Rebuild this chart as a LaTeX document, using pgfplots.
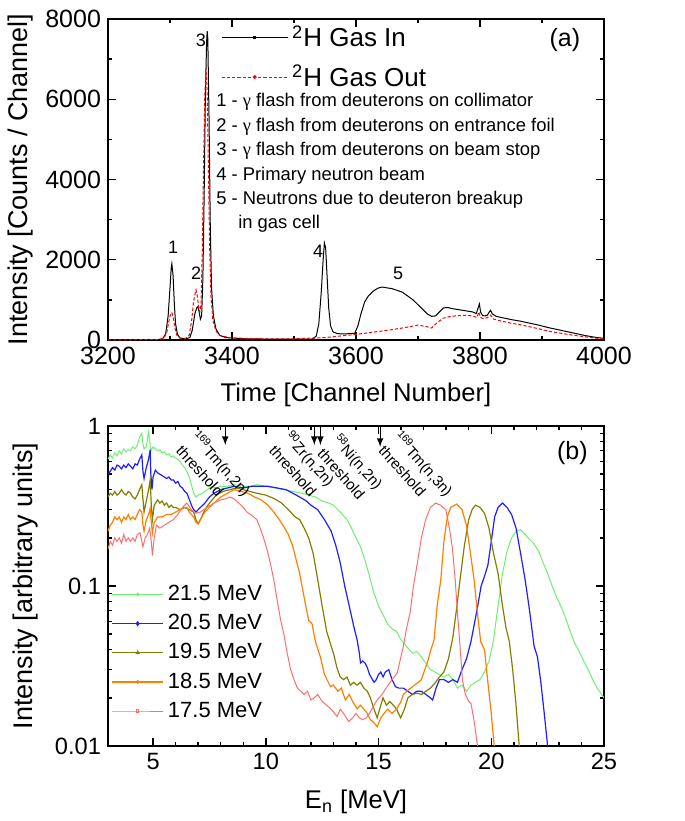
\documentclass[border=0pt]{standalone}
\usepackage{fontspec}
\setmainfont{Liberation Sans}
\newfontfamily\gk{Liberation Serif}
\usepackage{pgfplots}
\pgfplotsset{compat=1.18}

\definecolor{cgreen}{RGB}{110,240,110}
\definecolor{cblue}{RGB}{30,30,255}
\definecolor{colive}{RGB}{128,128,0}
\definecolor{corange}{RGB}{255,128,0}
\definecolor{cpink}{RGB}{255,110,110}

\pgfplotsset{
  common/.style={
    scale only axis,
    tick align=inside,
    major tick length=4pt,
    minor tick length=2pt,
    axis line style={line width=0.9pt},
    every tick/.style={black, line width=0.7pt},
    /pgf/number format/assume math mode=true,
    /pgf/number format/1000 sep={},
    xlabel style={font=\fontsize{12.8}{14}\selectfont},
    ylabel style={font=\fontsize{13.5}{15}\selectfont},
  },
  lega/.style={legend image code/.code={\draw[mark repeat=2,mark phase=2,##1] plot coordinates {(0pt,0pt)(16.5pt,0pt)(33pt,0pt)};}},
  legb/.style={legend image code/.code={\draw[mark repeat=2,mark phase=2,##1] plot coordinates {(0pt,0pt)(12.75pt,0pt)(25.5pt,0pt)};}},
}

\begin{document}
\begin{tikzpicture}
\useasboundingbox (0,0) rectangle (342.5pt,-410.5pt);

% ---------- panel (a)
\begin{axis}[common,
  at={(54pt,-170pt)}, anchor=south west,
  width=248pt, height=160.5pt,
  xmin=3200, xmax=4000, ymin=0, ymax=8000,
  xtick={3200,3400,...,4000}, ytick={0,2000,...,8000},
  minor x tick num=1, minor y tick num=1,
  ticklabel style={font=\fontsize{12.5}{13}\selectfont},
  xlabel={Time [Channel Number]},
  ylabel={Intensity [Counts / Channel]},
  xlabel style={at={(axis description cs:0.5,-0.17)}, anchor=center},
  ylabel style={at={(axis description cs:-0.177,0.5)}, anchor=center},
  legend style={at={(axis cs:3382,7950)}, anchor=north west, draw=none, fill=none,
    inner sep=0pt, row sep=3.5pt, font=\fontsize{13}{14}\selectfont},
  legend cell align=left,
]
\addplot[black, line width=0.5pt, forget plot] coordinates {
(3200,5)(3250,8)(3280,10)(3288,30)(3293,150)(3297,600)(3300,1300)(3302,1800)(3303,1900)(3305,1600)(3307,900)(3309,400)(3312,150)(3316,50)(3325,25)(3332,60)(3336,250)(3340,650)(3343,800)(3345,830)(3347,700)(3349,520)(3351,600)(3353,1500)(3355,3500)(3357,6000)(3359,7400)(3360,7700)(3361,7500)(3363,5500)(3365,2800)(3367,1300)(3370,600)(3374,280)(3380,120)(3390,60)(3420,30)(3480,20)(3530,25)(3536,100)(3540,400)(3544,1200)(3547,2000)(3549,2420)(3551,2300)(3553,1700)(3556,800)(3559,350)(3563,200)(3570,160)(3580,150)(3590,160)(3598,170)(3603,350)(3608,650)(3614,950)(3620,1100)(3628,1220)(3635,1290)(3642,1320)(3650,1300)(3658,1280)(3666,1240)(3675,1190)(3684,1090)(3692,1000)(3700,880)(3708,760)(3715,650)(3722,590)(3728,600)(3734,690)(3741,800)(3748,810)(3756,780)(3764,760)(3772,740)(3780,720)(3788,700)(3794,660)(3797,800)(3799,900)(3801,700)(3804,610)(3808,600)(3812,620)(3815,700)(3817,740)(3820,650)(3826,590)(3835,560)(3850,510)(3865,470)(3880,420)(3895,370)(3910,310)(3925,260)(3940,210)(3955,160)(3970,110)(3985,70)(4000,40)
};
\addplot[red, line width=0.5pt, dash pattern=on 1.6pt off 1pt, forget plot] coordinates {
(3200,5)(3280,8)(3290,40)(3295,200)(3298,450)(3301,650)(3303,680)(3305,580)(3308,300)(3311,120)(3316,50)(3325,40)(3331,120)(3335,500)(3338,950)(3341,1200)(3342,1250)(3344,1100)(3346,850)(3348,700)(3350,900)(3352,2200)(3354,4200)(3356,6000)(3358,6780)(3360,6200)(3362,4200)(3364,2300)(3366,1100)(3369,500)(3374,230)(3380,110)(3400,50)(3450,30)(3500,30)(3550,60)(3575,100)(3600,140)(3625,190)(3650,240)(3675,300)(3700,370)(3712,340)(3722,300)(3730,420)(3740,540)(3750,580)(3760,600)(3770,610)(3780,620)(3790,590)(3795,560)(3798,700)(3801,560)(3806,530)(3812,560)(3817,620)(3822,520)(3835,470)(3850,420)(3865,380)(3880,330)(3895,280)(3910,220)(3930,170)(3950,120)(3970,80)(3985,50)(4000,25)
};
\addlegendimage{lega, black, line width=0.5pt, mark=square*, mark size=0.6pt}
\addlegendentry{\textsuperscript{2}H Gas In}
\addlegendimage{lega, red, line width=0.5pt, dash pattern=on 1.6pt off 1pt, mark=*, mark size=0.7pt, mark options={solid}}
\addlegendentry{\textsuperscript{2}H Gas Out}

\node[anchor=north west, align=left, inner sep=0pt, font=\fontsize{9.2}{12.2}\selectfont]
  at (axis cs:3374,6150) {1 - {\gk γ} flash from deuterons on collimator\\
  2 - {\gk γ} flash from deuterons on entrance foil\\
  3 - {\gk γ} flash from deuterons on beam stop\\
  4 - Primary neutron beam\\
  5 - Neutrons due to deuteron breakup\\
  \hspace*{11pt}in gas cell};
\begin{scope}[font=\fontsize{9}{10}\selectfont]
\node at (axis cs:3305,2320) {1};
\node at (axis cs:3342,1670) {2};
\node at (axis cs:3350,7480) {3};
\node at (axis cs:3539,2220) {4};
\node at (axis cs:3668,1670) {5};
\end{scope}
\node[font=\fontsize{12.5}{13}\selectfont] at (axis cs:3937,7480) {(a)};
\end{axis}

% ---------- panel (b)
\begin{axis}[common,
  at={(54pt,-373pt)}, anchor=south west,
  width=248pt, height=160pt,
  xmin=3, xmax=25, ymin=0.01, ymax=1, ymode=log,
  xtick={5,10,...,25}, minor x tick num=4,
  ytick={0.01,0.1,1}, yticklabels={0.01,0.1,1},
  ticklabel style={font=\fontsize{11.8}{13}\selectfont},
  xlabel={E\textsubscript{n} [MeV]},
  ylabel={Intensity [arbitrary units]},
  xlabel style={at={(axis description cs:0.5,-0.175)}, anchor=center},
  ylabel style={at={(axis description cs:-0.167,0.5)}, anchor=center},
  legend style={at={(rel axis cs:0.006,0.516)}, anchor=north west, draw=none, fill=none,
    inner sep=0pt, row sep=1.4pt, font=\fontsize{11}{12}\selectfont},
  legend cell align=left,
]
\addplot[cgreen, line width=0.5pt, forget plot] coordinates {
(3.0,0.62)(3.1,0.66)(3.2,0.63)(3.3,0.68)(3.4,0.65)(3.5,0.70)(3.6,0.67)(3.7,0.72)(3.8,0.69)(3.9,0.71)(4.0,0.70)(4.1,0.74)(4.2,0.72)(4.3,0.76)(4.4,0.85)(4.5,0.90)(4.55,0.78)(4.6,0.72)(4.7,0.74)(4.8,0.92)(4.85,0.80)(4.9,0.70)(5.0,0.74)(5.1,0.72)(5.2,0.70)(5.3,0.71)(5.4,0.68)(5.5,0.69)(5.6,0.66)(5.7,0.67)(5.8,0.64)(5.9,0.65)(6.0,0.63)(6.1,0.62)(6.2,0.60)(6.3,0.57)(6.4,0.55)(6.5,0.52)(6.6,0.48)(6.7,0.43)(6.8,0.38)(6.9,0.36)(7.0,0.37)(7.2,0.38)(7.4,0.40)(7.6,0.42)(7.8,0.41)(8.0,0.42)(8.3,0.42)(8.6,0.43)(9.0,0.42)(9.3,0.42)(9.6,0.43)(10.0,0.42)(10.4,0.41)(10.8,0.40)(11.2,0.39)(11.6,0.38)(11.9,0.37)(12.2,0.36)(12.5,0.34)(12.8,0.33)(13.0,0.32)(13.2,0.30)(13.4,0.28)(13.6,0.26)(13.8,0.23)(14.0,0.20)(14.2,0.176)(14.4,0.145)(14.6,0.115)(14.8,0.09)(15.0,0.075)(15.2,0.066)(15.4,0.058)(15.6,0.054)(15.8,0.052)(16.0,0.046)(16.3,0.041)(16.5,0.038)(16.7,0.039)(16.9,0.036)(17.1,0.033)(17.3,0.030)(17.5,0.029)(17.7,0.028)(17.9,0.027)(18.1,0.028)(18.3,0.026)(18.5,0.023)(18.7,0.024)(18.9,0.022)(19.1,0.024)(19.3,0.025)(19.5,0.026)(19.7,0.029)(19.9,0.034)(20.1,0.046)(20.3,0.075)(20.5,0.12)(20.7,0.165)(20.9,0.20)(21.1,0.22)(21.3,0.225)(21.5,0.21)(21.7,0.195)(21.9,0.183)(22.1,0.165)(22.3,0.14)(22.5,0.12)(22.7,0.10)(22.9,0.085)(23.1,0.074)(23.3,0.063)(23.5,0.052)(23.7,0.044)(23.9,0.039)(24.1,0.034)(24.3,0.030)(24.5,0.026)(24.7,0.023)(25.0,0.020)
};
\addplot[cblue, line width=0.6pt, forget plot] coordinates {
(3.0,0.50)(3.1,0.52)(3.2,0.55)(3.3,0.53)(3.4,0.57)(3.5,0.56)(3.6,0.54)(3.7,0.57)(3.8,0.55)(3.9,0.58)(4.0,0.56)(4.1,0.54)(4.2,0.58)(4.3,0.57)(4.4,0.62)(4.5,0.66)(4.55,0.52)(4.6,0.47)(4.7,0.55)(4.8,0.62)(4.87,0.71)(4.9,0.50)(4.95,0.40)(5.0,0.48)(5.1,0.53)(5.2,0.51)(5.3,0.50)(5.4,0.49)(5.5,0.48)(5.6,0.47)(5.7,0.48)(5.8,0.46)(5.9,0.46)(6.0,0.44)(6.1,0.45)(6.2,0.42)(6.3,0.41)(6.4,0.39)(6.5,0.38)(6.6,0.35)(6.7,0.32)(6.8,0.30)(6.9,0.29)(7.0,0.30)(7.1,0.31)(7.3,0.33)(7.5,0.36)(7.7,0.38)(8.0,0.40)(8.3,0.41)(8.6,0.42)(9.0,0.41)(9.4,0.42)(9.8,0.42)(10.1,0.42)(10.5,0.41)(10.9,0.40)(11.2,0.38)(11.5,0.36)(11.8,0.34)(12.0,0.32)(12.3,0.30)(12.6,0.26)(12.9,0.22)(13.1,0.18)(13.3,0.14)(13.5,0.10)(13.7,0.075)(13.9,0.056)(14.05,0.046)(14.15,0.038)(14.2,0.033)(14.3,0.034)(14.4,0.033)(14.5,0.031)(14.6,0.028)(14.8,0.025)(14.9,0.026)(15.0,0.028)(15.1,0.029)(15.2,0.027)(15.3,0.029)(15.45,0.030)(15.6,0.026)(15.75,0.0235)(15.9,0.023)(16.1,0.023)(16.3,0.022)(16.5,0.021)(16.7,0.022)(16.9,0.022)(17.1,0.021)(17.3,0.020)(17.4,0.0194)(17.55,0.023)(17.7,0.026)(17.9,0.026)(18.1,0.025)(18.3,0.026)(18.5,0.025)(18.7,0.030)(18.9,0.035)(19.1,0.045)(19.25,0.058)(19.4,0.075)(19.55,0.10)(19.7,0.115)(19.85,0.135)(20.0,0.19)(20.15,0.27)(20.3,0.31)(20.5,0.33)(20.7,0.31)(20.9,0.28)(21.1,0.23)(21.3,0.16)(21.5,0.11)(21.7,0.07)(21.9,0.042)(22.05,0.036)(22.2,0.025)(22.35,0.016)(22.5,0.01)
};
\addplot[colive, line width=0.6pt, forget plot] coordinates {
(3.0,0.36)(3.1,0.38)(3.2,0.37)(3.3,0.39)(3.4,0.37)(3.5,0.38)(3.6,0.40)(3.7,0.38)(3.8,0.37)(3.9,0.39)(4.0,0.38)(4.1,0.36)(4.2,0.35)(4.3,0.37)(4.4,0.40)(4.5,0.43)(4.55,0.35)(4.6,0.29)(4.7,0.34)(4.8,0.40)(4.87,0.46)(4.92,0.32)(4.97,0.26)(5.05,0.32)(5.2,0.345)(5.3,0.33)(5.4,0.34)(5.5,0.32)(5.6,0.33)(5.7,0.31)(5.8,0.32)(5.9,0.31)(6.0,0.31)(6.2,0.30)(6.4,0.31)(6.6,0.30)(6.8,0.29)(6.9,0.26)(7.0,0.245)(7.1,0.26)(7.3,0.30)(7.5,0.33)(7.8,0.37)(8.1,0.39)(8.4,0.40)(8.7,0.41)(9.0,0.40)(9.3,0.39)(9.6,0.38)(10.0,0.37)(10.4,0.35)(10.7,0.33)(11.0,0.30)(11.3,0.27)(11.5,0.26)(11.7,0.23)(11.9,0.20)(12.1,0.16)(12.3,0.11)(12.5,0.075)(12.7,0.052)(12.9,0.042)(13.0,0.038)(13.15,0.031)(13.3,0.027)(13.45,0.026)(13.6,0.027)(13.75,0.024)(13.9,0.025)(14.05,0.024)(14.2,0.025)(14.35,0.023)(14.5,0.022)(14.64,0.020)(14.8,0.017)(14.94,0.015)(15.05,0.017)(15.2,0.020)(15.35,0.018)(15.5,0.019)(15.65,0.018)(15.8,0.017)(15.98,0.015)(16.15,0.017)(16.3,0.020)(16.5,0.021)(16.7,0.0214)(16.9,0.021)(17.1,0.022)(17.3,0.023)(17.5,0.0247)(17.7,0.027)(17.9,0.029)(18.1,0.035)(18.3,0.048)(18.45,0.07)(18.6,0.105)(18.8,0.176)(19.0,0.26)(19.15,0.30)(19.3,0.32)(19.5,0.31)(19.7,0.285)(19.9,0.23)(20.1,0.16)(20.3,0.12)(20.5,0.075)(20.65,0.055)(20.8,0.045)(20.95,0.03)(21.1,0.018)(21.24,0.01)
};
\addplot[corange, line width=0.6pt, forget plot] coordinates {
(3.0,0.22)(3.1,0.24)(3.2,0.25)(3.3,0.27)(3.4,0.26)(3.5,0.27)(3.6,0.25)(3.7,0.27)(3.8,0.26)(3.9,0.28)(4.0,0.26)(4.1,0.27)(4.2,0.26)(4.3,0.28)(4.4,0.30)(4.5,0.29)(4.55,0.24)(4.6,0.22)(4.7,0.26)(4.8,0.28)(4.87,0.305)(4.92,0.25)(4.97,0.215)(5.05,0.25)(5.2,0.27)(5.4,0.27)(5.6,0.28)(5.8,0.28)(6.0,0.29)(6.2,0.30)(6.4,0.31)(6.5,0.31)(6.6,0.29)(6.8,0.27)(6.9,0.25)(7.0,0.245)(7.1,0.26)(7.3,0.29)(7.5,0.31)(7.8,0.34)(8.0,0.36)(8.3,0.38)(8.6,0.40)(8.9,0.39)(9.2,0.38)(9.5,0.36)(9.8,0.345)(10.1,0.32)(10.35,0.29)(10.6,0.26)(10.8,0.235)(11.0,0.21)(11.2,0.176)(11.35,0.145)(11.5,0.12)(11.7,0.085)(11.9,0.061)(12.05,0.058)(12.2,0.045)(12.42,0.036)(12.6,0.028)(12.87,0.0235)(13.0,0.024)(13.2,0.022)(13.35,0.023)(13.53,0.0194)(13.7,0.021)(13.85,0.019)(14.05,0.0171)(14.2,0.018)(14.35,0.017)(14.5,0.016)(14.64,0.0146)(14.8,0.014)(14.94,0.0132)(15.1,0.015)(15.25,0.016)(15.4,0.017)(15.6,0.016)(15.8,0.017)(16.0,0.019)(16.1,0.021)(16.25,0.022)(16.42,0.023)(16.6,0.024)(16.9,0.026)(17.05,0.030)(17.16,0.033)(17.3,0.039)(17.46,0.046)(17.6,0.075)(17.76,0.109)(17.9,0.19)(18.05,0.27)(18.2,0.31)(18.47,0.325)(18.7,0.30)(18.9,0.24)(19.05,0.17)(19.24,0.109)(19.4,0.065)(19.53,0.045)(19.7,0.04)(19.85,0.025)(20.0,0.016)(20.13,0.01)
};
\addplot[cpink, line width=0.5pt, forget plot] coordinates {
(3.0,0.17)(3.1,0.19)(3.2,0.18)(3.3,0.20)(3.4,0.19)(3.5,0.20)(3.6,0.185)(3.7,0.21)(3.8,0.19)(3.9,0.20)(4.0,0.19)(4.1,0.20)(4.2,0.19)(4.3,0.21)(4.42,0.215)(4.5,0.19)(4.55,0.176)(4.65,0.20)(4.75,0.21)(4.85,0.23)(4.92,0.19)(4.97,0.155)(5.05,0.20)(5.15,0.24)(5.3,0.23)(5.5,0.24)(5.7,0.25)(5.9,0.26)(6.1,0.28)(6.3,0.31)(6.5,0.33)(6.7,0.30)(6.9,0.285)(7.1,0.29)(7.4,0.31)(7.7,0.33)(7.98,0.345)(8.2,0.35)(8.4,0.36)(8.6,0.35)(8.8,0.33)(9.0,0.31)(9.16,0.29)(9.4,0.275)(9.6,0.26)(9.75,0.23)(9.9,0.20)(10.05,0.17)(10.2,0.139)(10.35,0.11)(10.5,0.082)(10.65,0.062)(10.8,0.05)(10.95,0.038)(11.1,0.03)(11.25,0.026)(11.4,0.023)(11.55,0.022)(11.7,0.021)(11.85,0.022)(12.0,0.0194)(12.15,0.020)(12.3,0.021)(12.5,0.019)(12.7,0.018)(12.9,0.017)(13.16,0.0153)(13.3,0.017)(13.45,0.016)(13.68,0.0142)(13.85,0.015)(14.0,0.016)(14.15,0.015)(14.3,0.0146)(14.45,0.015)(14.6,0.016)(14.8,0.018)(14.94,0.0194)(15.15,0.021)(15.38,0.0235)(15.6,0.026)(15.83,0.0286)(15.95,0.034)(16.1,0.042)(16.25,0.055)(16.4,0.068)(16.55,0.10)(16.72,0.139)(16.9,0.2)(17.09,0.26)(17.3,0.31)(17.53,0.33)(17.75,0.32)(17.98,0.30)(18.12,0.24)(18.27,0.176)(18.4,0.11)(18.5,0.068)(18.6,0.045)(18.72,0.026)(18.85,0.021)(19.0,0.019)(19.1,0.0185)(19.25,0.014)(19.39,0.01)
};
\addlegendimage{legb, cgreen, line width=0.5pt, mark=o, mark size=0.6pt}
\addlegendentry{21.5 MeV}
\addlegendimage{legb, cblue, line width=0.8pt, mark=diamond, mark size=0.7pt}
\addlegendentry{20.5 MeV}
\addlegendimage{legb, colive, line width=0.7pt, mark=triangle*, mark size=0.7pt}
\addlegendentry{19.5 MeV}
\addlegendimage{legb, corange, line width=0.6pt, mark=o, mark size=0.6pt}
\addlegendentry{18.5 MeV}
\addlegendimage{legb, cpink, line width=0.5pt, mark=square, mark size=0.6pt}
\addlegendentry{17.5 MeV}

\draw[-latex, line width=0.5pt] (axis cs:8.2,1) -- (axis cs:8.2,0.76);
\draw[-latex, line width=0.5pt] (axis cs:12.15,1) -- (axis cs:12.15,0.76);
\draw[-latex, line width=0.5pt] (axis cs:12.42,1) -- (axis cs:12.42,0.76);
\draw[-latex, line width=0.5pt] (axis cs:15.07,1) -- (axis cs:15.07,0.74);
\begin{scope}[every node/.style={rotate=-48, anchor=north west, align=left, inner sep=0pt,
    font=\fontsize{7.5}{10}\selectfont}]
\node at (axis cs:7.09,0.96) {\textsuperscript{169}Tm(n,2n)\\threshold};
\node at (axis cs:11.22,0.96) {\textsuperscript{90}Zr(n,2n)\\threshold};
\node at (axis cs:13.36,0.92) {\textsuperscript{58}Ni(n,2n)\\threshold};
\node at (axis cs:16.07,0.96) {\textsuperscript{169}Tm(n,3n)\\threshold};
\end{scope}
\node[font=\fontsize{12.5}{13}\selectfont] at (axis cs:23.6,0.68) {(b)};
\end{axis}
\end{tikzpicture}
\end{document}
